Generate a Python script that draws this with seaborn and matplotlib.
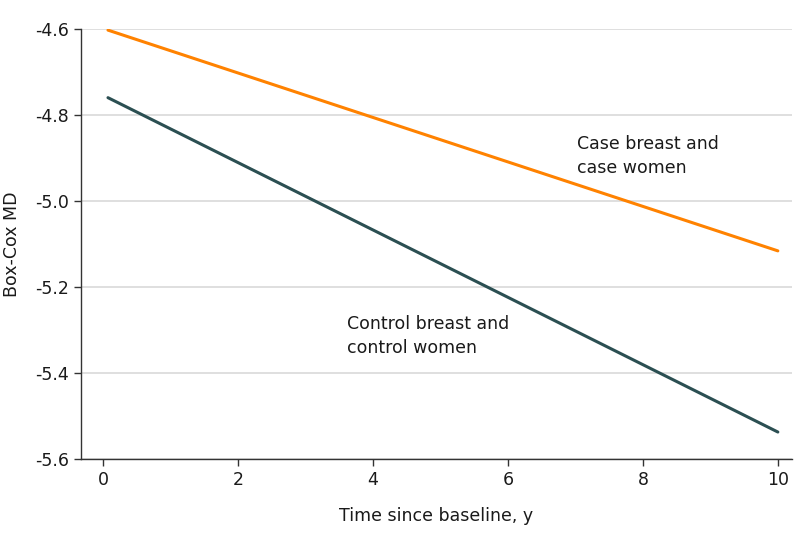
import pandas as pd
import numpy as np
import matplotlib
matplotlib.use("Agg")
import matplotlib.pyplot as plt
import seaborn as sns

#%%
time_years = [0.07, 10.0]
case_md = [-4.603, -5.116]
control_md = [-4.760, -5.537]

group_names = ["Case breast and\ncase women", "Control breast and\ncontrol women"]
group_colors = ["#FF8200", "#2B4F52"]
label_pos = [(7.02, -4.847), (3.62, -5.265)]

data = pd.DataFrame({
    "time": time_years * 2,
    "md": case_md + control_md,
    "group": [group_names[0]] * 2 + [group_names[1]] * 2,
})

#%%
sns.set_style("white")
plt.rcParams['font.family'] = ['DejaVu Sans']

fig = plt.figure(figsize=(7.98, 5.44), dpi=100)
ax = fig.add_axes([0.1015, 0.156, 0.891, 0.791])

sns.lineplot(data=data, x="time", y="md", hue="group", palette=group_colors,
             linewidth=2.2, legend=False, ax=ax)

# direct labels instead of a legend
for name, color, (tx, ty) in zip(group_names, group_colors, label_pos):
    ax.text(tx, ty, name, fontsize=12.5, color="#1a1a1a", va="top", ha="left",
            linespacing=1.45)

ax.set_xlim(-0.33, 10.21)
ax.set_ylim(-5.6, -4.6)
ax.set_xticks([0, 2, 4, 6, 8, 10])
ax.set_yticks([-4.6, -4.8, -5.0, -5.2, -5.4, -5.6])
ax.set_yticklabels(["-4.6", "-4.8", "-5.0", "-5.2", "-5.4", "-5.6"])
ax.yaxis.grid(True, color="#d9d9d9", linewidth=1.2)
ax.set_axisbelow(True)

for s in ["top", "right"]:
    ax.spines[s].set_visible(False)
for s in ["left", "bottom"]:
    ax.spines[s].set_color("#333333")
    ax.spines[s].set_linewidth(1.0)

ax.tick_params(axis="both", direction="out", length=5, width=1, color="#333333",
               labelsize=12.5, labelcolor="#1a1a1a", bottom=True, left=True)
ax.set_xlabel("Time since baseline, y", fontsize=12.5, color="#1a1a1a", labelpad=13)
ax.set_ylabel("Box-Cox MD", fontsize=12.5, color="#1a1a1a", labelpad=10)

fig.savefig("out.png", dpi=100)
